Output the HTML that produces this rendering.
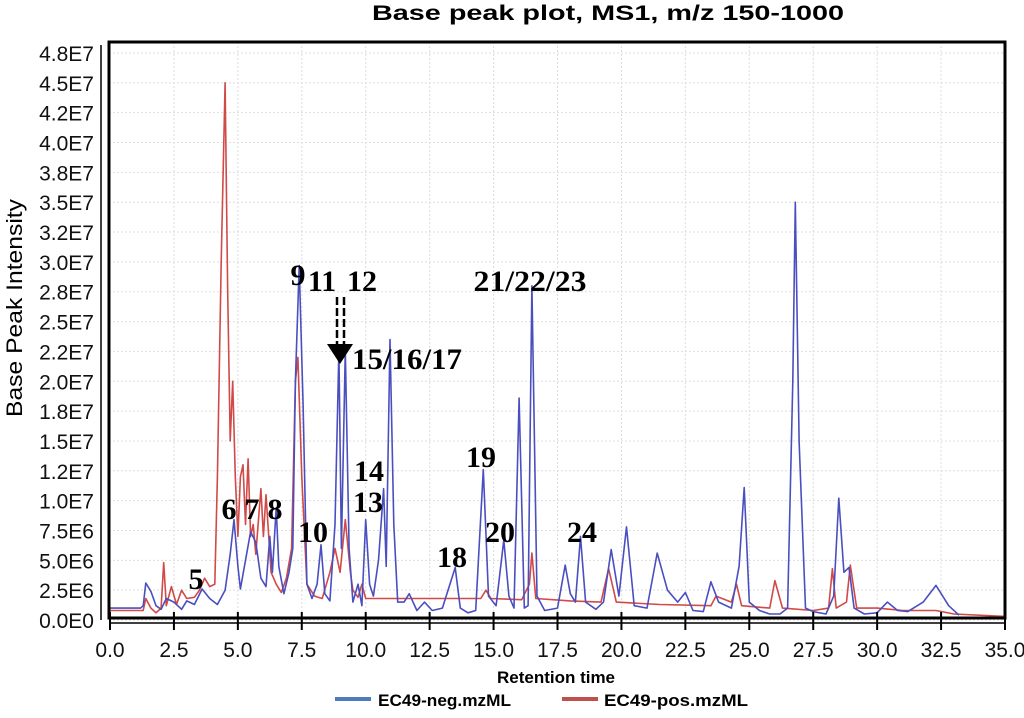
<!DOCTYPE html>
<html><head><meta charset="utf-8"><style>
body{margin:0;background:#fff;width:1024px;height:718px;overflow:hidden}
svg{display:block}
.tk{font-family:"Liberation Sans",sans-serif;font-size:21px;fill:#111}
.lb{font-family:"Liberation Serif",serif;font-size:30px;font-weight:bold;fill:#000}
</style></head><body>
<svg id="chart" width="1024" height="718" viewBox="0 0 1024 718">
<text x="608" y="20" text-anchor="middle" font-family="Liberation Sans,sans-serif" font-weight="bold" font-size="21" textLength="472" lengthAdjust="spacingAndGlyphs">Base peak plot, MS1, m/z 150-1000</text>
<g id="grid"></g>
<g id="series"></g>
<rect x="109" y="42" width="896" height="576" fill="none" stroke="#000" stroke-width="3"/>
<line x1="101" y1="45" x2="101" y2="620" stroke="#000" stroke-width="1.5"/>
<line x1="109" y1="623" x2="1005" y2="623" stroke="#000" stroke-width="1.5"/>
<g id="axes"></g>
<text transform="translate(22,308) rotate(-90)" text-anchor="middle" font-family="Liberation Sans,sans-serif" font-size="22" textLength="218" lengthAdjust="spacingAndGlyphs">Base Peak Intensity</text>
<text x="556" y="683" text-anchor="middle" font-family="Liberation Sans,sans-serif" font-weight="bold" font-size="17" textLength="118" lengthAdjust="spacingAndGlyphs">Retention time</text>
<g>
<g><line x1="335" y1="699" x2="371" y2="699" stroke="#4f7bbf" stroke-width="4"/><text x="378" y="706" font-family="Liberation Sans,sans-serif" font-weight="bold" font-size="17" textLength="133" lengthAdjust="spacingAndGlyphs">EC49-neg.mzML</text></g>
<g><line x1="562" y1="699" x2="598" y2="699" stroke="#c0504d" stroke-width="4"/><text x="604" y="706" font-family="Liberation Sans,sans-serif" font-weight="bold" font-size="17" textLength="144" lengthAdjust="spacingAndGlyphs">EC49-pos.mzML</text></g>
</g>
<g id="labels">
<text class="lb" x="298" y="285" text-anchor="middle">9</text>
<text class="lb" x="322" y="291" text-anchor="middle">11</text>
<text class="lb" x="362" y="291" text-anchor="middle">12</text>
<line x1="337" y1="297" x2="337" y2="345" stroke="#000" stroke-width="2.5" stroke-dasharray="8,3"/>
<line x1="344" y1="297" x2="344" y2="345" stroke="#000" stroke-width="2.5" stroke-dasharray="8,3"/>
<polygon points="327,344 353,344 340,364" fill="#000"/>
<text class="lb" x="352" y="369" textLength="110" lengthAdjust="spacingAndGlyphs">15/16/17</text>
<text class="lb" x="530" y="291" text-anchor="middle" textLength="113" lengthAdjust="spacingAndGlyphs">21/22/23</text>
<text class="lb" x="481" y="467" text-anchor="middle">19</text>
<text class="lb" x="369" y="481" text-anchor="middle">14</text>
<text class="lb" x="368" y="512" text-anchor="middle">13</text>
<text class="lb" x="229" y="519" text-anchor="middle">6</text>
<text class="lb" x="252" y="519" text-anchor="middle">7</text>
<text class="lb" x="275" y="519" text-anchor="middle">8</text>
<text class="lb" x="313" y="542" text-anchor="middle">10</text>
<text class="lb" x="196" y="589" text-anchor="middle">5</text>
<text class="lb" x="452" y="567" text-anchor="middle">18</text>
<text class="lb" x="500" y="542" text-anchor="middle">20</text>
<text class="lb" x="582" y="542" text-anchor="middle">24</text>
</g>
</svg>
<script>
const xTicks=[0,2.5,5,7.5,10,12.5,15,17.5,20,22.5,25,27.5,30,32.5,35];
const xTickLabels=["0.0","2.5","5.0","7.5","10.0","12.5","15.0","17.5","20.0","22.5","25.0","27.5","30.0","32.5","35.0"];
const yTicks=[0,2.5,5,7.5,10,12.5,15,17.5,20,22.5,25,27.5,30,32.5,35,37.5,40,42.5,45,47.5];
const yTickLabels=["0.0E0","2.5E6","5.0E6","7.5E6","1.0E7","1.2E7","1.5E7","1.8E7","2.0E7","2.2E7","2.5E7","2.8E7","3.0E7","3.2E7","3.5E7","3.8E7","4.0E7","4.2E7","4.5E7","4.8E7"];
const negTimes=[0,1.2,1.3,1.4,1.6,1.8,2.0,2.2,2.5,2.8,3.0,3.3,3.6,3.9,4.2,4.5,4.7,4.85,5.0,5.1,5.3,5.5,5.7,5.9,6.1,6.25,6.35,6.5,6.6,6.8,7.0,7.15,7.25,7.4,7.55,7.7,7.9,8.1,8.25,8.4,8.6,8.8,8.95,9.05,9.2,9.35,9.5,9.7,9.85,10.0,10.15,10.3,10.5,10.7,10.8,10.95,11.1,11.25,11.5,11.7,12.0,12.3,12.6,13.0,13.5,13.7,14.0,14.3,14.6,14.8,15.1,15.4,15.6,15.8,16.0,16.2,16.35,16.5,16.7,17.0,17.5,17.8,18.0,18.2,18.4,18.6,19.0,19.3,19.6,19.9,20.2,20.5,21.0,21.4,21.8,22.2,22.5,22.8,23.2,23.5,23.8,24.3,24.6,24.8,25.0,25.4,25.8,26.2,26.5,26.7,26.8,26.95,27.2,27.5,28.0,28.3,28.5,28.7,28.9,29.1,29.5,30.0,30.4,30.8,31.2,31.8,32.3,32.8,33.2];
const negValues=[1.0,1.0,1.2,3.1,2.4,1.2,0.9,1.8,1.5,0.9,1.6,1.3,2.6,1.8,1.3,2.5,5.5,8.4,4.5,2.6,5,7.4,6.5,3.5,2.8,7,4,9.4,4.5,2.2,4.0,6,20,29.7,18,3,1.8,3,6.3,2.2,1.6,8,22.6,6,22.6,6,1.5,3,1.2,8.4,3,2,5,11,4.5,23.5,8,1.5,1.5,2.2,0.8,1.5,0.8,1.0,4.4,1.0,0.6,0.8,12.6,2.0,1.2,6.7,2.0,1.0,18.6,1.0,1.2,28,2.0,0.8,1.0,4.6,2.2,1.5,7.0,1.5,0.9,1.5,5.9,2.0,7.8,1.2,1.0,5.6,2.5,1.5,2.3,0.8,0.7,3.2,1.5,1.0,4.5,11.1,1.5,0.8,0.5,0.5,1.0,20,35,15,1.0,0.7,0.5,2,10.2,4,4.4,1.0,0.5,0.6,1.5,0.8,0.7,1.5,2.9,1.2,0.4];
const posTimes=[0,1.3,1.4,1.6,1.8,2.0,2.1,2.2,2.4,2.6,2.8,3.0,3.3,3.5,3.7,3.9,4.1,4.2,4.35,4.5,4.6,4.7,4.8,4.9,5.0,5.1,5.2,5.3,5.4,5.5,5.6,5.7,5.9,6.0,6.1,6.3,6.5,6.7,6.9,7.1,7.25,7.35,7.5,7.7,8.0,8.3,8.6,8.8,9.0,9.2,9.4,9.5,9.7,9.85,10.0,12,14.5,14.7,14.9,16.1,16.4,16.5,16.65,18.0,19.2,19.5,19.8,21.5,23.5,23.7,24.3,24.5,24.7,25.8,26.0,26.3,27.5,28.1,28.25,28.4,28.8,28.95,29.2,30.0,31,32.3,33,35];
const posValues=[0.8,0.8,1.8,1.0,0.6,1.0,4.8,1.2,2.8,1.3,2.5,1.8,1.9,2.5,3.5,2.8,3.0,12,30,45,28,15,20,12,7,12,13,8,13.5,7,8,5.5,11,7,10.5,4,3,2.3,3.5,6,20,22,12,3,2,1.8,4,6,4,8.4,4,2.5,1.9,3.0,1.8,1.8,1.8,2.5,1.8,1.7,3,5.6,1.8,1.6,1.5,4.3,1.5,1.3,1.2,2.0,1.5,3,1.2,1.0,3.3,1.0,0.8,1.0,4.3,1.0,1.5,4.6,1.0,1.0,0.8,0.8,0.5,0.3];

const NS='http://www.w3.org/2000/svg';
const X0=110,X1=1005,Y0=620,Y1=47;
function xs(t){return X0+(t/35)*(X1-X0);}
function ys(v){return Y0-(v/48)*(Y0-Y1);}
function mk(tag,attrs,parent){const e=document.createElementNS(NS,tag);for(const k in attrs)e.setAttribute(k,attrs[k]);parent.appendChild(e);return e;}
const grid=document.getElementById('grid'),axes=document.getElementById('axes'),series=document.getElementById('series');
xTicks.forEach((t,i)=>{
  const g=mk('line',{x1:xs(t),x2:xs(t),y1:42,y2:618,stroke:'#ddd','stroke-dasharray':'2,2'},grid);
  
  
  const tk=mk('line',{x1:xs(t),x2:xs(t),y1:612,y2:630,stroke:'#000','stroke-width':2},axes);
  
  
  const tx=mk('text',{x:xs(t),y:657,'text-anchor':'middle','class':'tk'},axes);
  tx.textContent=xTickLabels[i];
  
  
});
yTicks.forEach((v,i)=>{
  const g=mk('line',{x1:109,x2:1005,y1:ys(v),y2:ys(v),stroke:'#ddd','stroke-dasharray':'2,2'},grid);
  
  
  const tx=mk('text',{x:94,y:ys(v)+8,'text-anchor':'end','class':'tk'},axes);
  tx.textContent=yTickLabels[i];
  
  
});
function line(ts,vs,color,name){
  const d=ts.map((t,i)=>(i?'L':'M')+xs(t).toFixed(1)+','+ys(vs[i]).toFixed(1)).join(' ');
  const p=mk('path',{d:d,fill:'none',stroke:color,'stroke-width':1.6,'stroke-linejoin':'round'},series);
  
  
}
line(posTimes,posValues,'#d04a48','pos-series-line');
line(negTimes,negValues,'#4a4fc0','neg-series-line');
</script>
</body></html>
